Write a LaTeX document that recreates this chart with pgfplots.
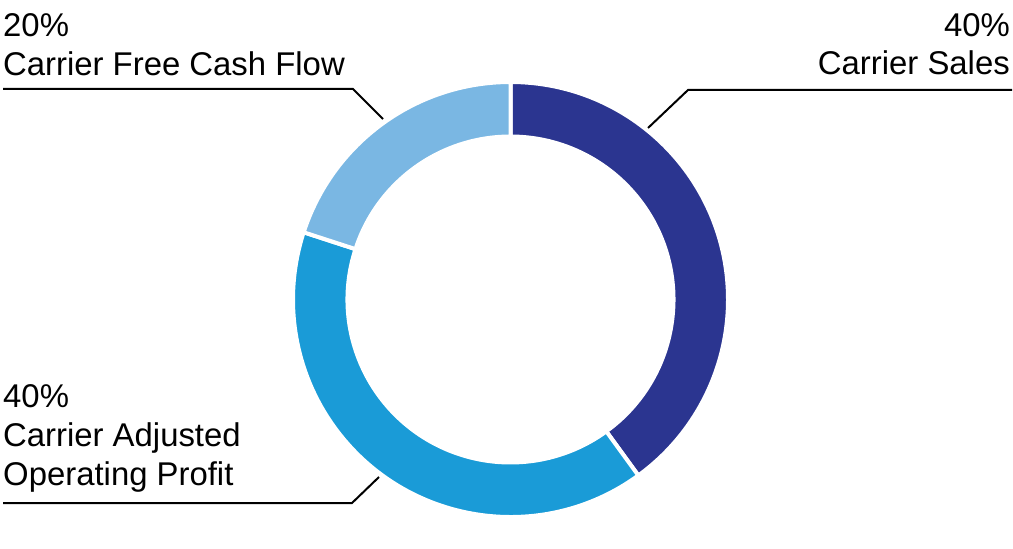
\documentclass[border=0pt]{standalone}
\usepackage{fontspec}
\setmainfont{Liberation Sans}
\usepackage{pgfplots}
\usepackage{pgfplotstable}
\pgfplotsset{compat=1.18}

\definecolor{cSales}{HTML}{2B3590}
\definecolor{cOP}{HTML}{1A9BD7}
\definecolor{cFCF}{HTML}{7AB7E3}

% share of each metric, clockwise from 12 o'clock
\pgfplotstableread{
value
40
40
20
}\shares

\begin{document}
\begin{tikzpicture}
\begin{axis}[
    hide axis,
    scale only axis,
    width=1013bp, height=526bp,
    xmin=0, xmax=1013,
    ymin=0, ymax=526,
    clip=false,
]
    \path (axis cs:0,0) (axis cs:1013,526);

    % donut ring, centre (510.5,226.5), outer 215.5, inner 165 (white 4bp gaps)
    \pgfplotsextra{%
      \gdef\cum{0}%
      \foreach \i/\col in {0/cSales,1/cOP,2/cFCF}{%
        \pgfplotstablegetelem{\i}{value}\of\shares
        \pgfmathsetmacro{\aStart}{90-3.6*\cum}%
        \pgfmathsetmacro{\aEnd}{90-3.6*(\cum+\pgfplotsretval)}%
        \pgfmathsetmacro{\newcum}{\cum+\pgfplotsretval}%
        \global\let\cum\newcum
        \filldraw[fill=\col, draw=white, line width=4bp, line join=miter]
          (axis cs:510.5,226.5) ++(\aStart:217.5bp)
          arc[start angle=\aStart, end angle=\aEnd, radius=217.5bp]
          -- ++(\aEnd+180:54.5bp)
          arc[start angle=\aEnd, end angle=\aStart, radius=163bp]
          -- cycle;
      }%
    }

    % leader lines
    \draw[black, line width=2bp] (axis cs:648,398) -- (axis cs:688,436) -- (axis cs:1012,436);
    \draw[black, line width=2bp] (axis cs:383,407) -- (axis cs:353,437) -- (axis cs:3,437);
    \draw[black, line width=2bp] (axis cs:379,49) -- (axis cs:352,23) -- (axis cs:3,23);

    % labels
    \begin{scope}[every node/.style={inner sep=0pt, font=\fontsize{33}{39}\selectfont}]
    \node[anchor=base west] at (axis cs:3,489.5) {20\%};
    \node[anchor=base west] at (axis cs:3,450) {Carrier Free Cash Flow};
    \node[anchor=base east] at (axis cs:1010,489.5) {40\%};
    \node[anchor=base east] at (axis cs:1010,451) {Carrier Sales};
    \node[anchor=base west] at (axis cs:3,119) {40\%};
    \node[anchor=base west] at (axis cs:3,79.5) {Carrier Adjusted};
    \node[anchor=base west] at (axis cs:3,41) {Operating Profit};
    \end{scope}
\end{axis}
\end{tikzpicture}
\end{document}
